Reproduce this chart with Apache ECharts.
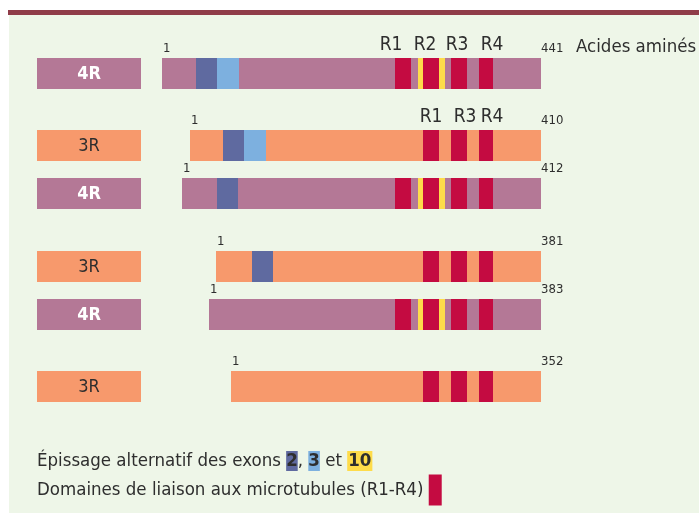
<!DOCTYPE html>
<html>
<head>
<meta charset="utf-8">
<script src="https://cdn.jsdelivr.net/npm/echarts@6/dist/echarts.min.js"></script>
<style>
html, body { margin: 0; padding: 0; background: #fff; }
#chart { width: 699px; height: 513px; }
</style>
</head>
<body>
<div id="chart"></div>
<script>
// isoformes de tau, alignées sur l'extrémité C-terminale
var isoformes = ['4R', '3R', '4R', '3R', '4R', '3R'];
var longueurs = [441, 410, 412, 381, 383, 352];
// position du résidu 1 sur l'axe commun
var debuts = [0, 33, 23, 63, 55, 80];
var groupes = [1, 2, 2, 3, 3, 4];
var exon2 = [[40, 64], [71, 95], [64, 88], [105, 129], null, null];
var exon3 = [[64, 90], [95, 121], null, null, null, null];
var exon10 = [298, 329];
var domaines4R = [['R1', 271, 290], ['R2', 304, 322], ['R3', 336, 355], ['R4', 369, 385]];
var domaines3R = [['R1', 304, 322], ['R3', 336, 355], ['R4', 369, 385]];
// emplacement des noms R1..R4 (en acides aminés sur l'axe commun)
var nomsR4R = [['R1', 266], ['R2', 306], ['R3', 343], ['R4', 384]];
var nomsR3R = [['R1', 313], ['R3', 353], ['R4', 384]];
var finAxe = 441;

var POLICE = "'DejaVu Sans Condensed', 'DejaVu Sans', sans-serif";
var COUL = {
	'4R': '#b47896',
	'3R': '#f7996c',
	exon2: '#5f6aa0',
	exon3: '#7db0df',
	exon10: '#fedc4a',
	domaine: '#c40b41',
	texte: '#2e2e2e'
};

// pistes verticales : 2 unités dans un groupe, 3 entre groupes
var pistes = [];
var p = 0;
groupes.forEach(function (g, i) {
	if (i > 0) p += (g === groupes[i - 1]) ? 2 : 3;
	pistes.push(p);
});

function dessinerIsoforme(params, api) {
	var i = api.value(0);
	var piste = api.value(1);
	var type = isoformes[i];
	var h = 31;
	var cy = Math.round(api.coord([0, piste])[1]);
	var haut = cy - 15;
	var px = function (v) { return Math.round(api.coord([v, piste])[0]); };
	var seg = function (a, b, fill) {
		return {
			type: 'rect',
			shape: { x: px(a), y: haut, width: px(b) - px(a), height: h },
			style: { fill: fill }
		};
	};
	var enfants = [];
	// étiquette à gauche
	enfants.push({ type: 'rect', shape: { x: 37, y: haut, width: 104, height: h }, style: { fill: COUL[type] } });
	enfants.push({
		type: 'text',
		style: {
			text: type, x: 89, y: cy + 1, align: 'center', verticalAlign: 'middle',
			fill: type === '4R' ? '#fff' : COUL.texte,
			font: (type === '4R' ? 'bold ' : '') + '18px ' + POLICE
		}
	});
	enfants.push(seg(debuts[i], finAxe, COUL[type]));
	if (exon2[i]) enfants.push(seg(exon2[i][0], exon2[i][1], COUL.exon2));
	if (exon3[i]) enfants.push(seg(exon3[i][0], exon3[i][1], COUL.exon3));
	var domaines = type === '4R' ? domaines4R : domaines3R;
	if (type === '4R') enfants.push(seg(exon10[0], exon10[1], COUL.exon10));
	domaines.forEach(function (d) {
		enfants.push(seg(d[1], d[2], COUL.domaine));
	});
	// numérotation
	enfants.push({
		type: 'text',
		style: { text: '1', x: px(debuts[i]) + 1, y: haut - 3, align: 'left', verticalAlign: 'bottom', fill: COUL.texte, font: '13px ' + POLICE }
	});
	enfants.push({
		type: 'text',
		style: { text: String(longueurs[i]), x: px(finAxe), y: haut - 3, align: 'left', verticalAlign: 'bottom', fill: COUL.texte, font: '13px ' + POLICE }
	});
	// noms des répétitions sur la première ligne de chaque type
	if (isoformes.indexOf(type) === i) {
		var noms = type === '4R' ? nomsR4R : nomsR3R;
		noms.forEach(function (n) {
			enfants.push({
				type: 'text',
				style: {
					text: n[0], x: px(n[1]), y: haut - 3, align: 'center', verticalAlign: 'bottom',
					fill: COUL.texte, font: '19px ' + POLICE
				}
			});
		});
	}
	if (i === 0) {
		enfants.push({
			type: 'text',
			style: { text: 'Acides aminés', x: 576, y: haut - 11, align: 'left', verticalAlign: 'middle', fill: COUL.texte, font: '18.5px ' + POLICE }
		});
	}
	return { type: 'group', children: enfants };
}

var chart = echarts.init(document.getElementById('chart'));
var option = {
	backgroundColor: '#fff',
	animation: false,
	grid: { left: 162, right: 158, top: 73, bottom: 127 },
	xAxis: { type: 'value', min: 0, max: finAxe, show: false },
	yAxis: { type: 'value', inverse: true, min: 0, max: pistes[pistes.length - 1], show: false },
	graphic: [
		{ type: 'rect', z: -10, shape: { x: 9, y: 15, width: 690, height: 498 }, style: { fill: '#eef6e8' } },
		{ type: 'rect', z: -10, shape: { x: 8, y: 10, width: 691, height: 5 }, style: { fill: '#8f3c48' } },
		{
			type: 'text', z: 10,
			style: {
				x: 37, y: 461, verticalAlign: 'middle',
				text: 'Épissage alternatif des exons {e2|2}, {e3|3} et {e10|10}',
				font: '18.5px ' + POLICE, fill: COUL.texte,
				rich: {
					e2: { backgroundColor: COUL.exon2, color: '#fff', fontWeight: 'bold', fontSize: 18.5, fontFamily: POLICE, padding: [1, 0, 0, 0], lineHeight: 21 },
					e3: { backgroundColor: COUL.exon3, color: '#1a1a1a', fontWeight: 'bold', fontSize: 18.5, fontFamily: POLICE, padding: [1, 0, 0, 0], lineHeight: 21 },
					e10: { backgroundColor: COUL.exon10, color: '#1a1a1a', fontWeight: 'bold', fontSize: 18.5, fontFamily: POLICE, padding: [1, 1, 0, 1], lineHeight: 21 }
				}
			}
		},
		{
			type: 'text', z: 10,
			style: {
				x: 37, y: 490, verticalAlign: 'middle',
				text: 'Domaines de liaison aux microtubules (R1-R4) {r| }',
				font: '18.5px ' + POLICE, fill: COUL.texte,
				rich: {
					r: { backgroundColor: COUL.domaine, width: 13, height: 31, fontSize: 17 }
				}
			}
		}
	],
	series: [{
		type: 'custom',
		renderItem: dessinerIsoforme,
		clip: false,
		data: isoformes.map(function (t, i) { return [i, pistes[i]]; })
	}]
};
chart.setOption(option);
</script>
</body>
</html>
